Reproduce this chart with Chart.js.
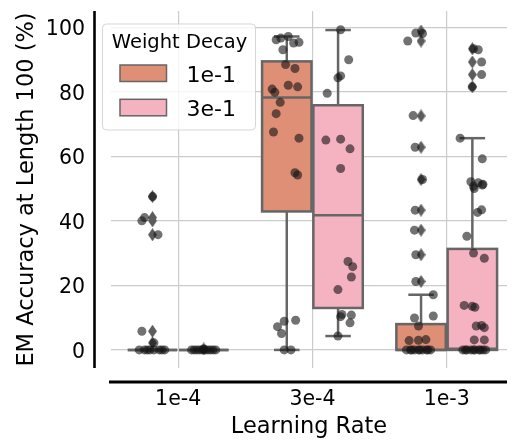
<!DOCTYPE html>
<html>
<head>
<meta charset="utf-8">
<title>EM Accuracy vs Learning Rate</title>
<script src="https://cdn.jsdelivr.net/npm/chart.js@4.4.1/dist/chart.umd.min.js"></script>
<style>
    html, body { margin: 0; padding: 0; background: #ffffff; }
    canvas { display: block; }
</style>
</head>
<body>
<canvas id="emChart" width="512" height="445"></canvas>
<script>

/*
============================================================
Data
============================================================
*/

const learningRates = ["1e-4", "3e-4", "1e-3"];

const weightDecays = ["1e-1", "3e-1"];

const yTicks = [0, 20, 40, 60, 80, 100];

// box summaries (one entry per learning rate)

const q1Wd1 = [0, 42.9, 0];
const medianWd1 = [0, 78.2, 0];
const q3Wd1 = [0, 89.4, 8.0];
const whiskerLowWd1 = [0, 0, 0];
const whiskerHighWd1 = [0, 97.1, 17.1];

const q1Wd3 = [0, 13.0, 0];
const medianWd3 = [0, 41.7, 0.4];
const q3Wd3 = [0, 75.8, 31.3];
const whiskerLowWd3 = [0, 4.3, 0];
const whiskerHighWd3 = [0, 99.1, 65.6];

// outliers drawn as diamonds

const fliersWd1 = [
    [47.5, 41, 40, 35.7, 5.8, 2.2],
    [],
    [98.8, 95.7, 72.5, 62.8, 52.8, 43.3, 37.1, 29.5, 21.2]
];

const fliersWd3 = [
    [0.3],
    [],
    [93.3, 89.2, 85.3, 81.5]
];

// individual runs (strip plot) and their jitter from the category centre

const runsWd1 = [
    [47.5, 41, 40, 35.7, 5.8, 2.2, 0, 0, 0, 0, 0, 0, 0, 0],
    [96.1, 96.6, 97.1, 95.1, 95.3, 93.0, 88.4, 87.2, 82.0, 81.5, 80.8, 79.8,
     76.7, 73.2, 67.5, 65.6, 54.9, 54.2, 9.2, 8.9, 7.2, 5.1, 0, 0],
    [98.2, 98.0, 95.7, 72.6, 62.8, 52.8, 43.3, 37.1, 29.5, 21.2, 17.1, 10.5,
     9.9, 7.4, 3.2, 3.0, 2.9, 0, 0, 0, 0, 0, 0, 0, 0, 0, 0]
];

const jitterWd1 = [
    [-0.19, -0.25, -0.27, -0.15, -0.27, -0.18, -0.29, -0.25, -0.21, -0.18, -0.14, -0.10, -0.23, -0.12],
    [-0.27, -0.235, -0.18, -0.14, -0.10, -0.22, -0.20, -0.13, -0.18, -0.11, -0.30, -0.28,
     -0.24, -0.27, -0.29, -0.10, -0.13, -0.11, -0.125, -0.21, -0.26, -0.23, -0.21, -0.16],
    [-0.23, -0.18, -0.29, -0.25, -0.235, -0.18, -0.235, -0.24, -0.23, -0.23, -0.10, -0.10,
     -0.24, -0.21, -0.155, -0.21, -0.28, -0.30, -0.27, -0.24, -0.21, -0.18, -0.15, -0.12, -0.26, -0.20, -0.14]
];

const runsWd3 = [
    [0.3, 0, 0, 0, 0, 0, 0, 0, 0, 0, 0],
    [99.2, 89.9, 84.9, 84.3, 79.5, 65.3, 65.0, 62.3, 56.2, 27.4, 25.8, 22.6,
     18.7, 11.0, 10.8, 10.3, 8.4, 4.3],
    [93.3, 93.0, 89.2, 85.3, 81.5, 65.6, 59.2, 52.1, 51.8, 51.3, 51.1, 50.7,
     50.0, 43.4, 42.6, 35.2, 30.0, 28.4, 13.8, 13.5, 13.2, 7.6, 7.4, 6.9,
     3.1, 3.1, 0, 0, 0, 0, 0, 0, 0, 0, 0, 0]
];

const jitterWd3 = [
    [0.19, 0.10, 0.12, 0.14, 0.16, 0.18, 0.20, 0.22, 0.24, 0.26, 0.28],
    [0.21, 0.27, 0.21, 0.19, 0.11, 0.21, 0.10, 0.28, 0.21, 0.265, 0.30, 0.29,
     0.19, 0.22, 0.29, 0.21, 0.28, 0.19],
    [0.20, 0.235, 0.26, 0.26, 0.19, 0.10, 0.265, 0.18, 0.235, 0.27, 0.265, 0.20,
     0.205, 0.26, 0.23, 0.15, 0.20, 0.28, 0.13, 0.19, 0.21, 0.26, 0.22, 0.28,
     0.205, 0.28, 0.12, 0.15, 0.18, 0.21, 0.24, 0.27, 0.29, 0.14, 0.20, 0.25]
];

/*
============================================================
Style
============================================================
*/

const FONT = "'DejaVu Sans', 'Liberation Sans', sans-serif";

const BOX_COLORS = ["#de8f75", "#f5b3c2"];

const EDGE = "#666666";

const HUE_OFFSETS = [-0.191, 0.191];

const BOX_HALF = 0.184;

const CAP_HALF = 0.095;

/*
============================================================
Helpers
============================================================
*/

const boxSeries = [
    { q1: q1Wd1, median: medianWd1, q3: q3Wd1, low: whiskerLowWd1, high: whiskerHighWd1 },
    { q1: q1Wd3, median: medianWd3, q3: q3Wd3, low: whiskerLowWd3, high: whiskerHighWd3 }
];

function stripPoints(runs, jitter) {
    const points = [];
    runs.forEach((group, i) => {
        group.forEach((v, k) => {
            points.push({ x: i + jitter[i][k], y: v });
        });
    });
    return points;
}

function flierPoints(fliers, hue) {
    const points = [];
    fliers.forEach((group, i) => {
        group.forEach(v => {
            points.push({ x: i + HUE_OFFSETS[hue], y: v });
        });
    });
    return points;
}

function makeDiamond() {
    const c = document.createElement("canvas");
    c.width = 9;
    c.height = 13;
    const g = c.getContext("2d");
    g.fillStyle = "#5c5c5c";
    g.beginPath();
    g.moveTo(4.5, 0);
    g.lineTo(9, 6.5);
    g.lineTo(4.5, 13);
    g.lineTo(0, 6.5);
    g.closePath();
    g.fill();
    return c;
}

function line(ctx, x0, y0, x1, y1) {
    ctx.beginPath();
    ctx.moveTo(x0, y0);
    ctx.lineTo(x1, y1);
    ctx.stroke();
}

/*
============================================================
Box + Spine + Legend Plugin
============================================================
*/

const boxPlugin = {

    id: "boxes",

    beforeDatasetsDraw(chart) {

        const ctx = chart.ctx;
        const xs = chart.scales.x;
        const ys = chart.scales.y;

        ctx.save();
        ctx.lineWidth = 2.5;
        ctx.strokeStyle = EDGE;
        ctx.lineCap = "butt";

        boxSeries.forEach((s, si) => {

            learningRates.forEach((lr, i) => {

                const c = i + HUE_OFFSETS[si];
                const left = xs.getPixelForValue(c - BOX_HALF);
                const right = xs.getPixelForValue(c + BOX_HALF);
                const mid = xs.getPixelForValue(c);
                const capL = xs.getPixelForValue(c - CAP_HALF);
                const capR = xs.getPixelForValue(c + CAP_HALF);

                const yQ1 = ys.getPixelForValue(s.q1[i]);
                const yQ3 = ys.getPixelForValue(s.q3[i]);
                const yMed = ys.getPixelForValue(s.median[i]);
                const yLo = ys.getPixelForValue(s.low[i]);
                const yHi = ys.getPixelForValue(s.high[i]);

                // whiskers and caps
                line(ctx, mid, yQ3, mid, yHi);
                line(ctx, capL, yHi, capR, yHi);
                line(ctx, mid, yQ1, mid, yLo);
                line(ctx, capL, yLo, capR, yLo);

                // box
                ctx.fillStyle = BOX_COLORS[si];
                ctx.fillRect(left, yQ3, right - left, yQ1 - yQ3);
                ctx.strokeRect(left, yQ3, right - left, yQ1 - yQ3);

                // median
                line(ctx, left, yMed, right, yMed);

            });

        });

        ctx.restore();

    },

    afterDraw(chart) {

        const ctx = chart.ctx;
        const area = chart.chartArea;

        ctx.save();

        // offset spines
        ctx.strokeStyle = "#000000";
        ctx.lineWidth = 2.6;
        line(ctx, area.left - 16.5, area.top, area.left - 16.5, area.bottom);
        ctx.lineWidth = 3;
        line(ctx, area.left - 2, area.bottom + 14, area.right, area.bottom + 14);

        // legend frame
        const lx = area.left - 8.5;
        const ly = area.top + 13;
        const lw = 153;
        const lh = 106;
        const r = 4;

        ctx.beginPath();
        ctx.moveTo(lx + r, ly);
        ctx.arcTo(lx + lw, ly, lx + lw, ly + lh, r);
        ctx.arcTo(lx + lw, ly + lh, lx, ly + lh, r);
        ctx.arcTo(lx, ly + lh, lx, ly, r);
        ctx.arcTo(lx, ly, lx + lw, ly, r);
        ctx.closePath();
        ctx.fillStyle = "rgba(255,255,255,0.8)";
        ctx.fill();
        ctx.strokeStyle = "rgba(204,204,204,0.8)";
        ctx.lineWidth = 1;
        ctx.stroke();

        // legend title
        ctx.fillStyle = "#000000";
        ctx.textBaseline = "alphabetic";
        ctx.textAlign = "center";
        ctx.font = "19.5px " + FONT;
        ctx.fillText("Weight Decay", lx + lw / 2 + 0.5, ly + 24);

        // legend entries
        ctx.textAlign = "left";
        ctx.font = "22px " + FONT;
        weightDecays.forEach((wd, k) => {
            const top = ly + 41 + k * 34.3;
            ctx.fillStyle = BOX_COLORS[k];
            ctx.fillRect(lx + 17.5, top, 46.5, 16.5);
            ctx.strokeStyle = EDGE;
            ctx.lineWidth = 1.5;
            ctx.strokeRect(lx + 17.5, top, 46.5, 16.5);
            ctx.fillStyle = "#000000";
            ctx.fillText(wd, lx + 84, top + 16.5);
        });

        ctx.restore();

    }

};

/*
============================================================
Chart
============================================================
*/

const diamond = makeDiamond();

new Chart(

    document.getElementById("emChart"),

    {

        type: "scatter",

        data: {

            datasets: [

                {
                    label: "runs 1e-1",
                    data: stripPoints(runsWd1, jitterWd1),
                    backgroundColor: "rgba(20,20,20,0.6)",
                    borderWidth: 0,
                    pointRadius: 4.5
                },

                {
                    label: "runs 3e-1",
                    data: stripPoints(runsWd3, jitterWd3),
                    backgroundColor: "rgba(20,20,20,0.6)",
                    borderWidth: 0,
                    pointRadius: 4.5
                },

                {
                    label: "outliers 1e-1",
                    data: flierPoints(fliersWd1, 0),
                    pointStyle: diamond
                },

                {
                    label: "outliers 3e-1",
                    data: flierPoints(fliersWd3, 1),
                    pointStyle: diamond
                }

            ]

        },

        options: {

            responsive: false,
            devicePixelRatio: 1,
            animation: false,

            layout: {
                padding: { top: 11, right: 0, bottom: 0, left: 0 }
            },

            plugins: {
                legend: { display: false },
                tooltip: { enabled: false }
            },

            scales: {

                x: {
                    type: "linear",
                    min: -0.5,
                    max: 2.449,
                    afterBuildTicks: scale => {
                        scale.ticks = learningRates.map((l, i) => ({ value: i }));
                    },
                    afterFit: scale => {
                        scale.height = 77;
                        scale.paddingLeft = 0;
                        scale.paddingRight = 0;
                    },
                    border: { display: false },
                    grid: { color: "#cccccc", lineWidth: 1.2, drawTicks: false },
                    ticks: {
                        padding: 19.5,
                        color: "#000000",
                        font: { family: FONT, size: 20.5 },
                        callback: v => learningRates[v]
                    },
                    title: {
                        display: true,
                        text: "Learning Rate",
                        color: "#000000",
                        padding: { top: 0, bottom: 6.5 },
                        font: { family: FONT, size: 22.5, lineHeight: 1 }
                    }
                },

                y: {
                    type: "linear",
                    min: -5.6,
                    max: 105,
                    afterBuildTicks: scale => {
                        scale.ticks = yTicks.map(v => ({ value: v }));
                    },
                    afterFit: scale => {
                        scale.width = 111;
                        scale.paddingTop = 0;
                        scale.paddingBottom = 0;
                    },
                    border: { display: false },
                    grid: { color: "#cccccc", lineWidth: 1.2, drawTicks: false },
                    ticks: {
                        padding: 26,
                        labelOffset: 2.5,
                        color: "#000000",
                        font: { family: FONT, size: 20.5 }
                    },
                    title: {
                        display: true,
                        text: "EM Accuracy at Length 100 (%)",
                        color: "#000000",
                        padding: { top: 16, bottom: 0 },
                        font: { family: FONT, size: 22.5, lineHeight: 1 }
                    }
                }

            }

        },

        plugins: [boxPlugin]

    }

);

</script>
</body>
</html>
